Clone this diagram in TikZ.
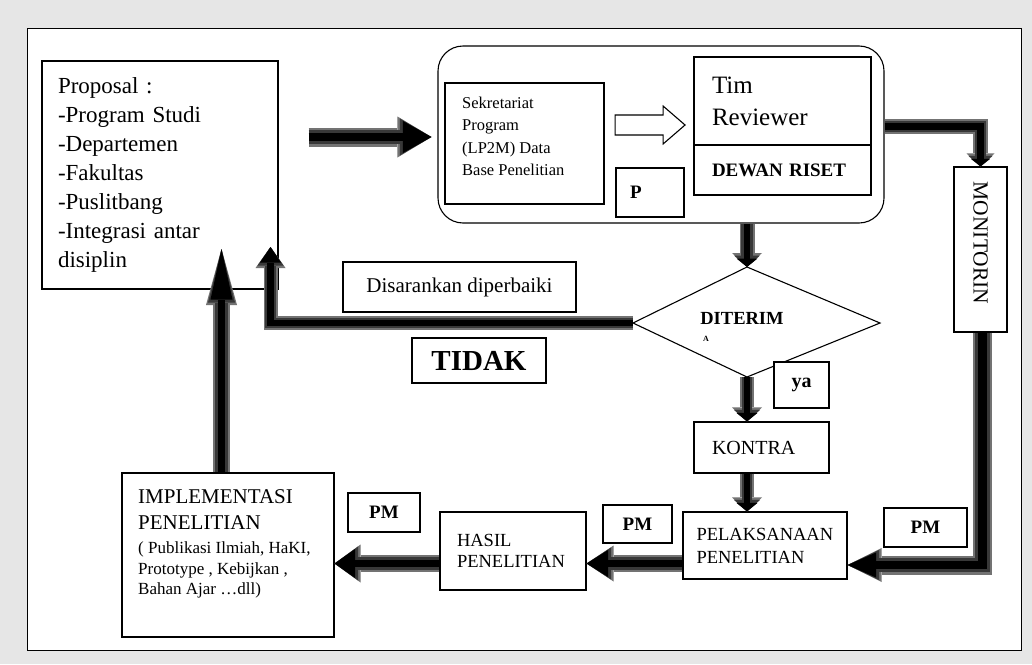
\documentclass[tikz,border=0pt]{standalone}
\usepackage{fontspec}
\setmainfont{Liberation Serif}
\usetikzlibrary{arrows.meta,calc}
\definecolor{bggray}{RGB}{230,230,230}
\newcommand\fatarrow[4]{%
  \pgfmathsetmacro\fatmw{#2*0.75}%
  \pgfmathsetmacro\fatin{#2*0.45}%
  \pgfmathsetmacro\fatwm{#3-4}%
  \pgfmathsetmacro\fatlm{#4-2.5}%
  \pgfmathsetmacro\fatwi{#3-9}%
  \pgfmathsetmacro\fatli{#4-5.5}%
  \draw[fatout, line width=#2pt, -{Triangle[width=#3pt,length=#4pt,line width=0pt]}] #1;
  \draw[fatmid, line width=\fatmw pt, -{Triangle[width=\fatwm pt,length=\fatlm pt,line width=0pt]}] #1;
  \draw[fatcore, line width=\fatin pt, -{Triangle[width=\fatwi pt,length=\fatli pt,line width=0pt]}] #1;
}
\begin{document}
\begin{tikzpicture}[x=1pt,y=-1pt,
  box/.style={draw=black,line width=1.1pt,fill=white,inner sep=0pt,rectangle},
  fatout/.style={draw=black!55,line join=miter},
  fatmid/.style={draw=black!78,line join=miter},
  fatcore/.style={draw=black,line join=miter},
  lbl/.style={inner sep=0pt,align=left,anchor=west},
  pmfont/.style={font=\bfseries\fontsize{19}{22}\selectfont},
]
\useasboundingbox (0,0) rectangle (1032,664);
\fill[bggray] (0,0) rectangle (1032,664);
\node[draw=black, line width=1pt, fill=white, minimum width=994pt, minimum height=622pt, inner sep=0pt] (frame) at (524,339) {};

% top group
\node[box, rounded corners=25pt, minimum width=446pt, minimum height=177pt] (round) at (661,134.5) {};
\node[box, minimum width=236pt, minimum height=228pt, text width=204pt, align=left, font=\fontsize{23}{29}\selectfont] (prop) at (160,175) {Proposal :\\-Program Studi\\-Departemen\\-Fakultas\\-Puslitbang\\-Integrasi antar\\disiplin};
\node[box, minimum width=159pt, minimum height=121pt] (sek) at (524.5,143.5) {};
\node[lbl, font=\fontsize{16.5}{22.3}\selectfont] (sektxt) at (462,136.5) {Sekretariat\\Program\\(LP2M) Data\\Base Penelitian};
\node[box, minimum width=68pt, minimum height=49pt, text width=40pt, align=left, font=\bfseries\fontsize{19}{22}\selectfont] (p) at (650,192.5) {P};
\node[box, minimum width=177pt, minimum height=89pt, text width=141pt, align=left, font=\fontsize{25}{32}\selectfont] (tim) at (782.5,101.5) {Tim\\Reviewer};
\node[box, minimum width=177pt, minimum height=50pt, text width=141pt, align=left, font=\bfseries\fontsize{19}{22}\selectfont] (dewan) at (782.5,170) {DEWAN RISET};
\coordinate (wa) at ($(sek.east)+(10.5,-18.5)$);
\draw[line width=1.1pt, fill=white] ($(wa)+(0,-10)$) -- ++(48,0) -- ++(0,-9) -- ++(22,19) -- ++(-22,19) -- ++(0,-9) -- ++(-48,0) -- cycle;

% monitoring
\node[box, minimum width=53pt, minimum height=165pt] (mon) at (980.5,249.5) {};
\node[rotate=-90, inner sep=0pt, font=\fontsize{21.5}{24}\selectfont] (montxt) at (980.5,243) {MONITORIN};

% decision
\coordinate (dN) at (747,267);
\coordinate (dE) at (880,323);
\coordinate (dS) at (747,377);
\coordinate (dW) at (633,323);
\draw[line width=1.1pt, fill=white] (dN) -- (dE) -- (dS) -- (dW) -- cycle;
\node[inner sep=0pt, font=\bfseries\fontsize{18.5}{20}\selectfont] (dtxt) at (742,318) {DITERIM};
\node[inner sep=0pt, font=\bfseries\fontsize{8}{9}\selectfont] (dtxta) at (706,339) {A};

\node[box, minimum width=233pt, minimum height=50pt, font=\fontsize{21}{24}\selectfont] (dis) at (459.5,287) {Disarankan diperbaiki};
\node[box, minimum width=134pt, minimum height=45pt, font=\bfseries\fontsize{29}{32}\selectfont] (tidak) at (479,360.5) {TIDAK};
\node[box, minimum width=55pt, minimum height=46pt, font=\bfseries\fontsize{20}{22}\selectfont] (ya) at (801.5,385) {ya};
\node[box, minimum width=135pt, minimum height=51pt, text width=99pt, align=left, font=\fontsize{20}{22}\selectfont] (kon) at (761.5,447.5) {KONTRA};

% bottom row
\node[box, minimum width=164pt, minimum height=67pt, text width=137pt, align=left, font=\fontsize{18.5}{23}\selectfont] (pel) at (765,545.5) {PELAKSANAAN\\PENELITIAN};
\node[box, minimum width=146pt, minimum height=78pt, text width=112pt, align=left, font=\fontsize{18.5}{21}\selectfont] (has) at (513,551) {HASIL\\PENELITIAN};
\node[box, minimum width=212pt, minimum height=164pt] (impl) at (228,555) {};
\node[lbl, font=\fontsize{21}{26}\selectfont] (impl1) at (138,510) {IMPLEMENTASI\\PENELITIAN};
\node[lbl, font=\fontsize{17}{20.5}\selectfont] (impl2) at (138,570) {( Publikasi Ilmiah, HaKI,\\Prototype , Kebijkan ,\\Bahan Ajar …dll)};
\node[box, minimum width=72pt, minimum height=39pt, pmfont] (pm1) at (384,512.5) {PM};
\node[box, minimum width=69pt, minimum height=38pt, pmfont] (pm2) at (637.5,524) {PM};
\node[box, minimum width=83pt, minimum height=39pt, pmfont] (pm3) at (925.5,527.5) {PM};

% block arrows
\coordinate (a1s) at ($(prop.east)+(30,-38)$);
\coordinate (a1e) at ($(round.west)+(-6,2.5)$);
\fatarrow{(a1s) -- (a1e)}{19}{41}{34}
\fatarrow{([yshift=8pt]round.east) -| (mon.north)}{15}{28}{13}
\fatarrow{(dN |- round.south) -- (dN)}{15}{30}{14}
\fatarrow{(dS) -- (kon.north -| dS)}{14}{30}{14}
\fatarrow{(kon.south -| dS) -- (pel.north -| dS)}{14}{30}{14}
\coordinate (lowA) at ([yshift=-18pt]pel.west);
\fatarrow{(lowA) -- (has.east |- lowA)}{17}{36}{27}
\fatarrow{(has.west |- lowA) -- (impl.east |- lowA)}{17}{38}{26}
\fatarrow{([xshift=2pt]mon.south) |- ([yshift=-19.5pt]pel.east)}{19}{34}{34}
\coordinate (upA) at (221.5,249);
\fatarrow{([xshift=-6.5pt]impl.north) -- (upA)}{17}{31}{56}
\coordinate (upB) at (270.5,247);
\fatarrow{(dW) -| (upB)}{14}{30}{21}
\end{tikzpicture}
\end{document}
